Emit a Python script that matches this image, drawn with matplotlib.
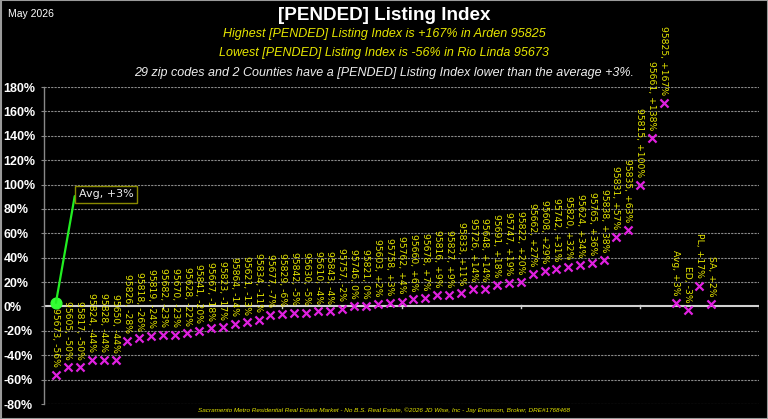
import matplotlib
matplotlib.use("Agg")
import matplotlib.pyplot as plt
from matplotlib.patches import Rectangle

zips = ["95673", "95605", "95817", "95824", "95828", "95650", "95826", "95818", "95819",
        "95682", "95670", "95628", "95841", "95667", "95823", "95864", "95621", "95834",
        "95677", "95829", "95842", "95630", "95610", "95843", "95757", "95746", "95821",
        "95603", "95758", "95762", "95660", "95678", "95816", "95827", "95833", "95726",
        "95648", "95691", "95747", "95822", "95662", "95608", "95742", "95820", "95624",
        "95765", "95838", "95831", "95835", "95815", "95661", "95825"]
zip_values = [-56, -50, -50, -44, -44, -44, -28, -26, -24, -23, -23, -22, -20, -18, -17,
              -14, -13, -11, -7, -6, -5, -5, -4, -4, -2, 0, 0, 2, 3, 4, 6, 7, 9, 9, 11,
              14, 14, 18, 19, 20, 27, 29, 31, 32, 34, 36, 38, 57, 63, 100, 138, 167]
counties = ["Avg", "ED", "PL", "SA"]
county_values = [3, -3, 17, 2]
avg_value = 3
y_ticks = [-80, -60, -40, -20, 0, 20, 40, 60, 80, 100, 120, 140, 160, 180]

names = zips + counties
values = zip_values + county_values
xs = list(range(1, len(names) + 1))

W, H = 768, 419
fig = plt.figure(figsize=(W / 100, H / 100), dpi=100, facecolor="black")
ax = fig.add_axes([44 / W, (H - 404) / H, (759 - 44) / W, (404 - 87) / H])
ax.set_facecolor("black")
ax.set_xlim(0, 60)
ax.set_ylim(-80, 180)

for s in ["top", "right", "bottom"]:
    ax.spines[s].set_visible(False)
ax.spines["left"].set_color("#888888")
ax.spines["left"].set_linewidth(1.0)

ax.set_yticks(y_ticks)
ax.set_yticklabels([f"{t}%" for t in y_ticks], color="white", fontsize=9,
                   fontweight="bold", family="Liberation Sans", ha="left")
ax.tick_params(axis="y", colors="#888888", length=2.5, pad=26.5)
for lbl in ax.get_yticklabels():
    lbl.set_color("white")
ax.set_xticks([])
for t in y_ticks:
    if t == 0:
        continue
    ax.axhline(t, color="#8a8a8a", lw=0.8, ls=(0, (2, 1)), zorder=0)
ax.axhline(0, color="#d0d0d0", lw=1.5, zorder=1)
for xt in range(10, 61, 10):
    ax.plot([xt, xt], [-1.2, 1.2], color="#d0d0d0", lw=1, zorder=1)

ax.scatter(xs, values, marker="x", color="#e020e0", s=34, linewidths=1.6, zorder=3)

for x, n, v in zip(xs, names, values):
    lab = f"{n}, +{v}%" if v > 0 else f"{n}, {v}%"
    ax.annotate(lab, xy=(x, v), xytext=(0, 5.5), textcoords="offset points",
                rotation=270, ha="center", va="bottom", color="#e6e600",
                fontsize=6.7, family="DejaVu Sans", zorder=4)

# average marker & callout
ax.scatter([1], [avg_value], s=60, color="#33ff33", zorder=5)
ax.annotate(f"Avg, +{avg_value}%", xy=(1, avg_value), xytext=(2.9, 92),
            textcoords="data", color="#eeeeee", fontsize=8, family="DejaVu Sans",
            ha="left", va="center",
            bbox=dict(boxstyle="square,pad=0.3", fc="black", ec="#8a8a00", lw=1),
            arrowprops=dict(arrowstyle="-", color="#22ee22", lw=1.6,
                            connectionstyle="angle,angleA=0,angleB=80,rad=0",
                            shrinkA=0, shrinkB=0),
            zorder=5)

# titles
fig.text(8 / W, 1 - 14 / H, "May 2026", color="white", fontsize=7.5,
         family="Liberation Sans", ha="left", va="center")
fig.text(384 / W, 1 - 15 / H, "[PENDED] Listing Index", color="white", fontsize=13.6,
         fontweight="bold", family="Liberation Sans", ha="center", va="center")
fig.text(384 / W, 1 - 34 / H, "Highest [PENDED] Listing Index is +167% in Arden 95825",
         color="#e6e600", fontsize=9, style="italic", family="Liberation Sans",
         ha="center", va="center")
fig.text(384 / W, 1 - 53 / H, "Lowest [PENDED] Listing Index is -56% in Rio Linda 95673",
         color="#e6e600", fontsize=9, style="italic", family="Liberation Sans",
         ha="center", va="center")
fig.text(384 / W, 1 - 73 / H,
         "29 zip codes and 2 Counties have a [PENDED] Listing Index lower than the average +3%.",
         color="#eeeeee", fontsize=9, style="italic", family="Liberation Sans",
         ha="center", va="center")
fig.text(384 / W, 1 - 410 / H,
         "Sacramento Metro Residential Real Estate Market - No B.S. Real Estate, \u00a92026 JD Wise, Inc - Jay Emerson, Broker, DRE#1768468",
         color="#e6e600", fontsize=4.6, style="italic", family="Liberation Sans",
         ha="center", va="center")

fig.patches.append(Rectangle((0.5 / W, 0.5 / H), 1 - 1 / W, 1 - 1 / H, transform=fig.transFigure,
                             fill=False, ec="#9a9a9a", lw=1.5))

fig.savefig("out.png", dpi=100, facecolor="black")
